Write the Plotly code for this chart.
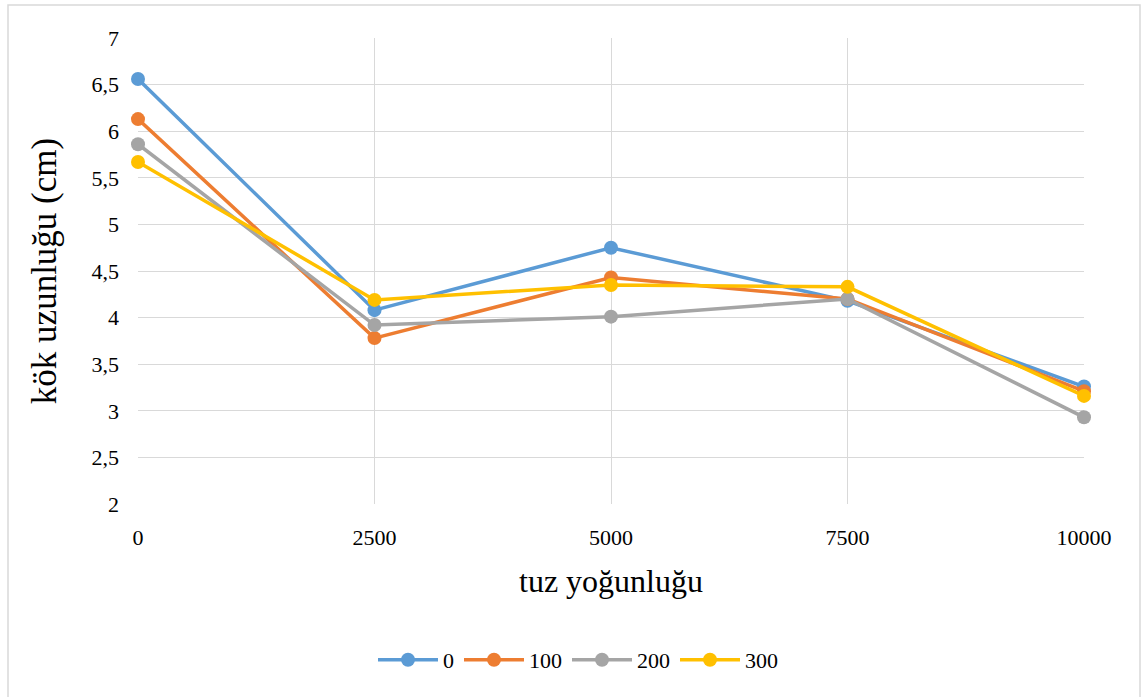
import plotly.graph_objects as go

# Tuz yoğunluğu kategorileri (x ekseni)
salt_levels = ["0", "2500", "5000", "7500", "10000"]

# Seri adları ve kök uzunluğu değerleri (cm)
series_names = ["0", "100", "200", "300"]
root_0 = [6.56, 4.08, 4.75, 4.18, 3.26]
root_100 = [6.13, 3.78, 4.43, 4.20, 3.21]
root_200 = [5.86, 3.92, 4.01, 4.20, 2.93]
root_300 = [5.67, 4.19, 4.35, 4.33, 3.16]

y_ticks = [2, 2.5, 3, 3.5, 4, 4.5, 5, 5.5, 6, 6.5, 7]
y_tick_labels = ["2", "2,5", "3", "3,5", "4", "4,5", "5", "5,5", "6", "6,5", "7"]

colors = ["#5B9BD5", "#ED7D31", "#A5A5A5", "#FFC000"]
all_series = [root_0, root_100, root_200, root_300]

FONT = "Liberation Serif, Times New Roman, serif"

fig = go.Figure()
for name, vals, col in zip(series_names, all_series, colors):
    fig.add_trace(go.Scatter(
        x=salt_levels, y=vals, name=name, mode="lines+markers",
        line=dict(color=col, width=3.5),
        marker=dict(color=col, size=14),
        cliponaxis=False,
    ))

W, H = 1144, 697
L, R, T, B = 138, 60, 38, 193
pw, ph = W - L - R, H - T - B

def px_x(v):
    return (v - L) / pw

def px_y(v):
    return (H - B - v) / ph

fig.update_layout(
    width=W, height=H,
    margin=dict(l=L, r=R, t=T, b=B),
    paper_bgcolor="white", plot_bgcolor="white",
    font=dict(family=FONT, color="#000000", size=22),
    showlegend=True,
    legend=dict(
        orientation="h", x=px_x(578), y=px_y(660), xanchor="center", yanchor="middle",
        font=dict(family=FONT, size=22), itemwidth=60,
    ),
    xaxis=dict(
        type="category", range=[0, 4],
        showgrid=True, gridcolor="#D9D9D9", gridwidth=1.2,
        zeroline=False, showline=False, ticks="",
        tickfont=dict(family=FONT, size=22),
        ticklabelstandoff=18,
        title=dict(text="tuz yoğunluğu", font=dict(family=FONT, size=32), standoff=20),
    ),
    yaxis=dict(
        range=[2, 7], tickvals=y_ticks, ticktext=y_tick_labels,
        showgrid=True, gridcolor="#D9D9D9", gridwidth=1.2,
        zeroline=False, showline=False, ticks="",
        tickfont=dict(family=FONT, size=22),
        ticklabelstandoff=18,
        title=dict(text="kök uzunluğu (cm)", font=dict(family=FONT, size=35), standoff=24),
    ),
    shapes=[dict(
        type="rect", xref="paper", yref="paper",
        x0=px_x(8), x1=px_x(1140), y0=px_y(720), y1=px_y(5),
        line=dict(color="#D9D9D9", width=1.5), fillcolor="rgba(0,0,0,0)", layer="below",
    )],
)

fig.write_html("out.html")
